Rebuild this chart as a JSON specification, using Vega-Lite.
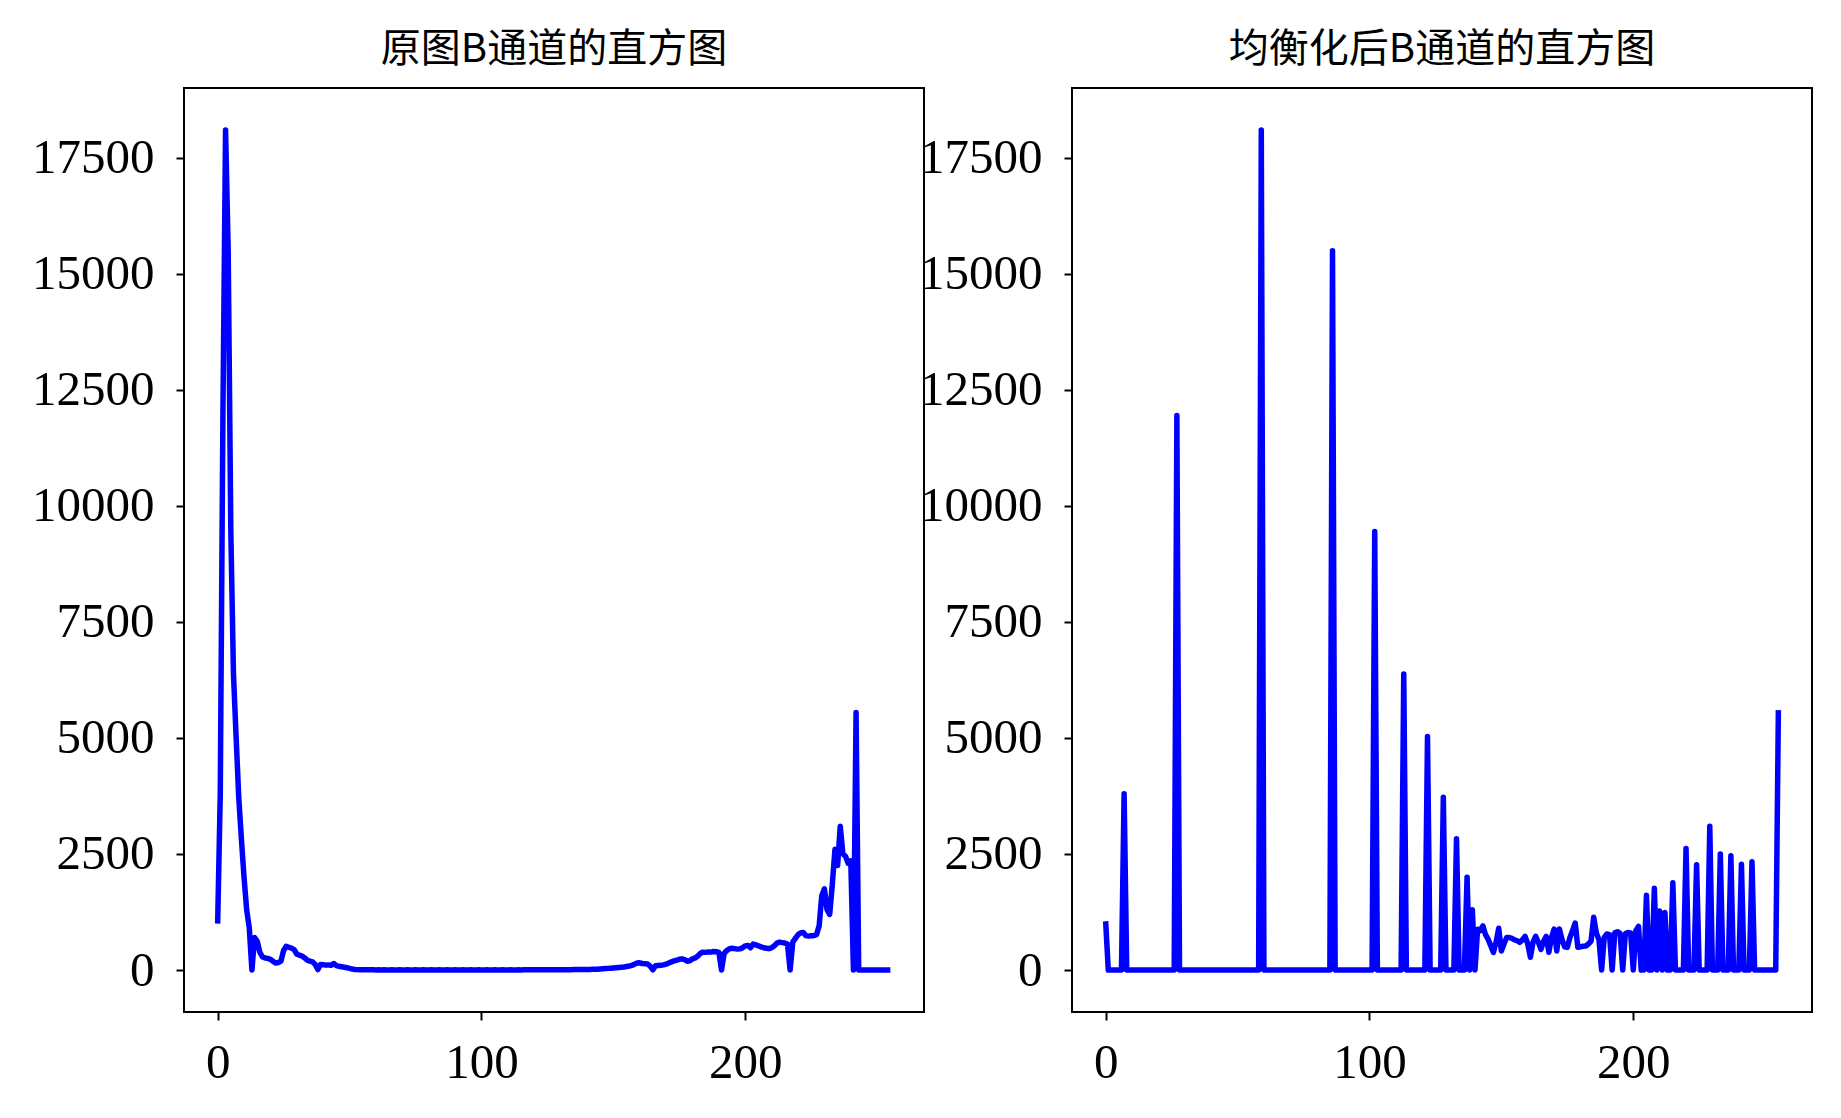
{
  "$schema": "https://vega.github.io/schema/vega-lite/v6.json",
  "padding": {"left": 30, "top": 29, "right": 0, "bottom": 0},
  "background": "white",
  "config": {
    "view": {"stroke": "black", "strokeWidth": 2},
    "axis": {"grid": false, "domain": false, "ticks": true, "tickColor": "black", "tickWidth": 2, "tickSize": 8, "labelFont": "Liberation Serif", "labelFontSize": 49, "labelColor": "black", "labelFlush": false, "labelOverlap": false},
    "title": {"font": "Noto Sans CJK SC", "fontSize": 40, "fontWeight": "normal", "color": "black", "offset": 18}
  },
  "data": {"values": [
    {"i":0,"o":1000,"e":1050},{"i":1,"o":3800,"e":0},{"i":2,"o":11950,"e":0},{"i":3,"o":18100,"e":0},{"i":4,"o":15500,"e":0},{"i":5,"o":9450,"e":0},{"i":6,"o":6380,"e":0},{"i":7,"o":5030,"e":3800},{"i":8,"o":3720,"e":0},{"i":9,"o":2830,"e":0},
    {"i":10,"o":2000,"e":0},{"i":11,"o":1300,"e":0},{"i":12,"o":900,"e":0},{"i":13,"o":0,"e":0},{"i":14,"o":700,"e":0},{"i":15,"o":620,"e":0},{"i":16,"o":380,"e":0},{"i":17,"o":280,"e":0},{"i":18,"o":260,"e":0},{"i":19,"o":250,"e":0},
    {"i":20,"o":230,"e":0},{"i":21,"o":190,"e":0},{"i":22,"o":150,"e":0},{"i":23,"o":160,"e":0},{"i":24,"o":190,"e":0},{"i":25,"o":420,"e":0},{"i":26,"o":510,"e":0},{"i":27,"o":490,"e":11950},{"i":28,"o":470,"e":0},{"i":29,"o":440,"e":0},
    {"i":30,"o":340,"e":0},{"i":31,"o":320,"e":0},{"i":32,"o":300,"e":0},{"i":33,"o":260,"e":0},{"i":34,"o":210,"e":0},{"i":35,"o":190,"e":0},{"i":36,"o":175,"e":0},{"i":37,"o":120,"e":0},{"i":38,"o":10,"e":0},{"i":39,"o":120,"e":0},
    {"i":40,"o":115,"e":0},{"i":41,"o":105,"e":0},{"i":42,"o":110,"e":0},{"i":43,"o":100,"e":0},{"i":44,"o":140,"e":0},{"i":45,"o":95,"e":0},{"i":46,"o":80,"e":0},{"i":47,"o":70,"e":0},{"i":48,"o":60,"e":0},{"i":49,"o":50,"e":0},
    {"i":50,"o":35,"e":0},{"i":51,"o":20,"e":0},{"i":52,"o":12,"e":0},{"i":53,"o":8,"e":0},{"i":54,"o":5,"e":0},{"i":55,"o":4,"e":0},{"i":56,"o":3,"e":0},{"i":57,"o":4,"e":0},{"i":58,"o":3,"e":0},{"i":59,"o":3,"e":18100},
    {"i":60,"o":2,"e":0},{"i":61,"o":3,"e":0},{"i":62,"o":2,"e":0},{"i":63,"o":3,"e":0},{"i":64,"o":2,"e":0},{"i":65,"o":2,"e":0},{"i":66,"o":3,"e":0},{"i":67,"o":2,"e":0},{"i":68,"o":2,"e":0},{"i":69,"o":3,"e":0},
    {"i":70,"o":2,"e":0},{"i":71,"o":2,"e":0},{"i":72,"o":3,"e":0},{"i":73,"o":2,"e":0},{"i":74,"o":2,"e":0},{"i":75,"o":3,"e":0},{"i":76,"o":2,"e":0},{"i":77,"o":2,"e":0},{"i":78,"o":3,"e":0},{"i":79,"o":2,"e":0},
    {"i":80,"o":2,"e":0},{"i":81,"o":3,"e":0},{"i":82,"o":2,"e":0},{"i":83,"o":2,"e":0},{"i":84,"o":3,"e":0},{"i":85,"o":2,"e":0},{"i":86,"o":2,"e":15500},{"i":87,"o":3,"e":0},{"i":88,"o":2,"e":0},{"i":89,"o":2,"e":0},
    {"i":90,"o":3,"e":0},{"i":91,"o":2,"e":0},{"i":92,"o":2,"e":0},{"i":93,"o":3,"e":0},{"i":94,"o":2,"e":0},{"i":95,"o":2,"e":0},{"i":96,"o":3,"e":0},{"i":97,"o":2,"e":0},{"i":98,"o":2,"e":0},{"i":99,"o":3,"e":0},
    {"i":100,"o":2,"e":0},{"i":101,"o":2,"e":0},{"i":102,"o":3,"e":9450},{"i":103,"o":2,"e":0},{"i":104,"o":2,"e":0},{"i":105,"o":3,"e":0},{"i":106,"o":2,"e":0},{"i":107,"o":2,"e":0},{"i":108,"o":3,"e":0},{"i":109,"o":2,"e":0},
    {"i":110,"o":2,"e":0},{"i":111,"o":3,"e":0},{"i":112,"o":2,"e":0},{"i":113,"o":2,"e":6380},{"i":114,"o":3,"e":0},{"i":115,"o":2,"e":0},{"i":116,"o":3,"e":0},{"i":117,"o":3,"e":0},{"i":118,"o":4,"e":0},{"i":119,"o":3,"e":0},
    {"i":120,"o":4,"e":0},{"i":121,"o":4,"e":0},{"i":122,"o":5,"e":5030},{"i":123,"o":4,"e":0},{"i":124,"o":5,"e":0},{"i":125,"o":5,"e":0},{"i":126,"o":6,"e":0},{"i":127,"o":5,"e":0},{"i":128,"o":6,"e":3720},{"i":129,"o":6,"e":0},
    {"i":130,"o":7,"e":0},{"i":131,"o":6,"e":0},{"i":132,"o":7,"e":0},{"i":133,"o":8,"e":2830},{"i":134,"o":8,"e":0},{"i":135,"o":9,"e":0},{"i":136,"o":9,"e":0},{"i":137,"o":10,"e":2000},{"i":138,"o":11,"e":0},{"i":139,"o":12,"e":1300},
    {"i":140,"o":12,"e":0},{"i":141,"o":13,"e":880},{"i":142,"o":14,"e":850},{"i":143,"o":15,"e":950},{"i":144,"o":15,"e":760},{"i":145,"o":20,"e":660},{"i":146,"o":25,"e":520},{"i":147,"o":30,"e":380},{"i":148,"o":35,"e":600},{"i":149,"o":40,"e":900},
    {"i":150,"o":45,"e":410},{"i":151,"o":50,"e":560},{"i":152,"o":55,"e":700},{"i":153,"o":60,"e":700},{"i":154,"o":65,"e":680},{"i":155,"o":75,"e":650},{"i":156,"o":85,"e":630},{"i":157,"o":100,"e":596},{"i":158,"o":125,"e":650},{"i":159,"o":150,"e":725},
    {"i":160,"o":155,"e":560},{"i":161,"o":140,"e":273},{"i":162,"o":135,"e":600},{"i":163,"o":130,"e":725},{"i":164,"o":80,"e":600},{"i":165,"o":5,"e":445},{"i":166,"o":90,"e":620},{"i":167,"o":95,"e":725},{"i":168,"o":100,"e":381},{"i":169,"o":110,"e":700},
    {"i":170,"o":125,"e":883},{"i":171,"o":150,"e":410},{"i":172,"o":175,"e":883},{"i":173,"o":195,"e":650},{"i":174,"o":210,"e":500},{"i":175,"o":230,"e":488},{"i":176,"o":240,"e":700},{"i":177,"o":225,"e":850},{"i":178,"o":190,"e":1012},{"i":179,"o":200,"e":488},
    {"i":180,"o":240,"e":500},{"i":181,"o":260,"e":510},{"i":182,"o":300,"e":517},{"i":183,"o":360,"e":560},{"i":184,"o":385,"e":620},{"i":185,"o":380,"e":1135},{"i":186,"o":390,"e":800},{"i":187,"o":385,"e":650},{"i":188,"o":400,"e":0},{"i":189,"o":395,"e":700},
    {"i":190,"o":380,"e":775},{"i":191,"o":0,"e":760},{"i":192,"o":360,"e":0},{"i":193,"o":420,"e":800},{"i":194,"o":460,"e":825},{"i":195,"o":470,"e":790},{"i":196,"o":460,"e":0},{"i":197,"o":450,"e":780},{"i":198,"o":455,"e":810},{"i":199,"o":480,"e":800},
    {"i":200,"o":520,"e":0},{"i":201,"o":530,"e":850},{"i":202,"o":480,"e":940},{"i":203,"o":560,"e":0},{"i":204,"o":540,"e":0},{"i":205,"o":520,"e":1610},{"i":206,"o":500,"e":0},{"i":207,"o":480,"e":0},{"i":208,"o":470,"e":1760},{"i":209,"o":460,"e":0},
    {"i":210,"o":480,"e":1270},{"i":211,"o":520,"e":0},{"i":212,"o":580,"e":1240},{"i":213,"o":600,"e":0},{"i":214,"o":590,"e":0},{"i":215,"o":580,"e":1880},{"i":216,"o":560,"e":0},{"i":217,"o":0,"e":0},{"i":218,"o":600,"e":0},{"i":219,"o":680,"e":0},
    {"i":220,"o":760,"e":2620},{"i":221,"o":800,"e":0},{"i":222,"o":810,"e":0},{"i":223,"o":740,"e":0},{"i":224,"o":730,"e":2270},{"i":225,"o":740,"e":0},{"i":226,"o":740,"e":0},{"i":227,"o":760,"e":0},{"i":228,"o":950,"e":0},{"i":229,"o":1600,"e":3100},
    {"i":230,"o":1750,"e":0},{"i":231,"o":1300,"e":0},{"i":232,"o":1200,"e":0},{"i":233,"o":1850,"e":2500},{"i":234,"o":2600,"e":0},{"i":235,"o":2250,"e":0},{"i":236,"o":3100,"e":0},{"i":237,"o":2500,"e":2460},{"i":238,"o":2450,"e":0},{"i":239,"o":2300,"e":0},
    {"i":240,"o":2350,"e":0},{"i":241,"o":0,"e":2280},{"i":242,"o":5550,"e":0},{"i":243,"o":0,"e":0},{"i":244,"o":0,"e":0},{"i":245,"o":0,"e":2330},{"i":246,"o":0,"e":0},{"i":247,"o":0,"e":0},{"i":248,"o":0,"e":0},{"i":249,"o":0,"e":0},
    {"i":250,"o":0,"e":0},{"i":251,"o":0,"e":0},{"i":252,"o":0,"e":0},{"i":253,"o":0,"e":0},{"i":254,"o":0,"e":0},{"i":255,"o":0,"e":5600}
  ]},
  "spacing": 148,
  "bounds": "flush",
  "hconcat": [
    {
      "title": "原图B通道的直方图",
      "width": 740, "height": 924,
      "mark": {"type": "line", "color": "#0000ff", "strokeWidth": 5.5, "strokeJoin": "round", "clip": true},
      "encoding": {
        "x": {"field": "i", "type": "quantitative", "scale": {"domain": [-12.75, 267.75], "nice": false, "zero": false}, "axis": {"values": [0, 100, 200], "title": null, "labelPadding": 18}},
        "y": {"field": "o", "type": "quantitative", "scale": {"domain": [-905, 19005], "nice": false, "zero": false}, "axis": {"values": [0, 2500, 5000, 7500, 10000, 12500, 15000, 17500], "format": "d", "title": null, "labelPadding": 22}}
      }
    },
    {
      "title": "均衡化后B通道的直方图",
      "width": 740, "height": 924,
      "mark": {"type": "line", "color": "#0000ff", "strokeWidth": 5.5, "strokeJoin": "round", "clip": true},
      "encoding": {
        "x": {"field": "i", "type": "quantitative", "scale": {"domain": [-12.75, 267.75], "nice": false, "zero": false}, "axis": {"values": [0, 100, 200], "title": null, "labelPadding": 18}},
        "y": {"field": "e", "type": "quantitative", "scale": {"domain": [-905, 19005], "nice": false, "zero": false}, "axis": {"values": [0, 2500, 5000, 7500, 10000, 12500, 15000, 17500], "format": "d", "title": null, "labelPadding": 22}}
      }
    }
  ]
}
